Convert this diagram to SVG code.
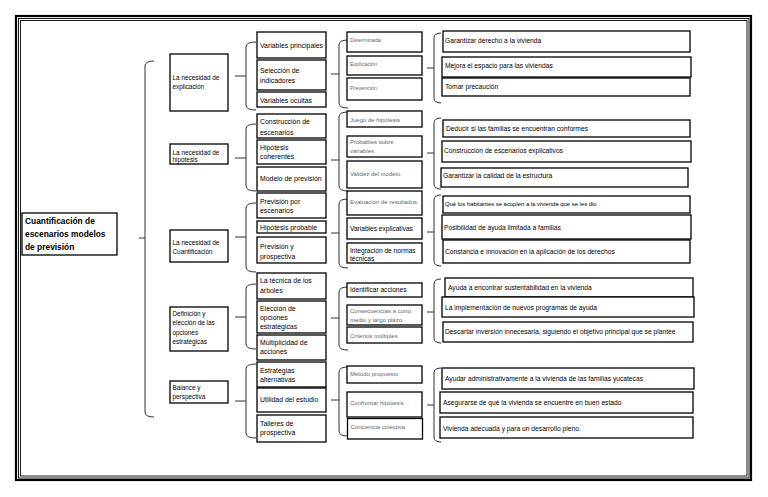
<svg xmlns="http://www.w3.org/2000/svg" width="768" height="497" viewBox="0 0 768 497">
<style>
.frame{fill:none;stroke:#000}
.b{fill:#fff;stroke:#000;stroke-width:1.3}
.br{fill:none;stroke:#333;stroke-width:1}
text{font-family:"Liberation Sans",Arial,sans-serif;fill:#000}
.title{font-size:8.4px;font-weight:bold}
.t1{font-size:6.4px}
.t2{font-size:6.9px}
.t3{font-size:6px;fill:#666}
.t3s{font-size:5.4px;fill:#666}
.t3b{font-size:6.6px}
.t4{font-size:6.7px}
.t4s{font-size:5.9px}
</style>
<rect width="768" height="497" fill="#fff"/>
<rect class="frame" x="16" y="16" width="735" height="464" stroke-width="2.2"/>
<rect class="frame" x="18.5" y="18.5" width="730.5" height="459.5" stroke-width="0.9"/>
<rect class="frame" x="20.5" y="20.5" width="726.5" height="455.5" stroke-width="0.9"/>

<g id="connectors">
<path class="br" d="M154,61 Q145,61 145,66 L145,412 Q145,417 154,417 M139,238 L145,238"/>
<path class="br" d="M256,42 Q246,42 246,47 L246,105 Q246,110 256,110 M235,76 L246,76"/>
<path class="br" d="M256,124 Q246,124 246,129 L246,186 Q246,191 256,191 M235,158 L246,158"/>
<path class="br" d="M256,203 Q246,203 246,208 L246,267 Q246,272 256,272 M235,237 L246,237"/>
<path class="br" d="M256,284 Q246,284 246,289 L246,344 Q246,349 256,349 M235,317 L246,317"/>
<path class="br" d="M256,364 Q246,364 246,369 L246,433 Q246,438 256,438 M235,401 L246,401"/>
<path class="br" d="M348,40 Q339,40 339,45 L339,103 Q339,108 348,108 M331,74 L339,74"/>
<path class="br" d="M348,112 Q339,112 339,117 L339,186 Q339,191 348,191 M331,160 L339,160"/>
<path class="br" d="M348,199 Q339,199 339,204 L339,263 Q339,268 348,268 M331,233 L339,233"/>
<path class="br" d="M348,287 Q339,287 339,292 L339,345 Q339,350 348,350 M331,318 L339,318"/>
<path class="br" d="M348,367 Q339,367 339,372 L339,431 Q339,436 348,436 M331,400 L339,400"/>
<path class="br" d="M441,33 Q434,33 434,38 L434,98 Q434,103 441,103 M427,68 L434,68"/>
<path class="br" d="M441,118 Q434,118 434,123 L434,184 Q434,189 441,189 M427,153 L434,153"/>
<path class="br" d="M441,195 Q434,195 434,200 L434,261 Q434,266 441,266 M427,232 L434,232"/>
<path class="br" d="M441,279 Q434,279 434,284 L434,338 Q434,343 441,343 M427,312 L434,312"/>
<path class="br" d="M441,368 Q434,368 434,373 L434,437 Q434,442 441,442 M427,405 L434,405"/>
</g>

<g id="root"><rect class="b" x="22" y="213" width="95" height="42"/>
<text class="title" x="25" y="224">Cuantificación de</text>
<text class="title" x="25" y="237">escenarios modelos</text>
<text class="title" x="25" y="249.5">de previsión</text></g>

<g id="n1a"><rect class="b" x="170" y="54" width="58" height="57"/>
<text class="t1" x="172.5" y="80.3">La necesidad de</text><text class="t1" x="172.5" y="89.3">explicación</text></g>
<g id="n1b"><rect class="b" x="170" y="144" width="58" height="20"/>
<text class="t1" x="172.5" y="154.5">La necesidad de</text><text class="t1" x="172.5" y="161.8">hipótesis</text></g>
<g id="n1c"><rect class="b" x="170" y="230" width="58" height="32"/>
<text class="t1" x="172.5" y="245">La necesidad de</text><text class="t1" x="172.5" y="253.5">Cuantificación</text></g>
<g id="n1d"><rect class="b" x="170" y="307" width="58" height="44"/>
<text class="t1" x="172.5" y="315.5">Definición y</text><text class="t1" x="172.5" y="325">elección de las</text><text class="t1" x="172.5" y="334.5">opciones</text><text class="t1" x="172.5" y="344">estratégicas</text></g>
<g id="n1e"><rect class="b" x="170" y="381" width="58" height="22"/>
<text class="t1" x="172.5" y="389.5">Balance y</text><text class="t1" x="172.5" y="398.5">perspectiva</text></g>

<g id="n2a"><rect class="b" x="257" y="32" width="69" height="26"/><text class="t2" x="260" y="47.5">Variables principales</text></g>
<g id="n2b"><rect class="b" x="257" y="60" width="69" height="30"/><text class="t2" x="260" y="73">Selección de</text><text class="t2" x="260" y="82.5">indicadores</text></g>
<g id="n2c"><rect class="b" x="257" y="92" width="69" height="15"/><text class="t2" x="260" y="102.5">Variables ocultas</text></g>
<g id="n2d"><rect class="b" x="257" y="114" width="69" height="24"/><text class="t2" x="260" y="124">Construcción de</text><text class="t2" x="260" y="135">escenarios</text></g>
<g id="n2e"><rect class="b" x="257" y="140" width="69" height="24"/><text class="t2" x="260" y="150">Hipótesis</text><text class="t2" x="260" y="159">coherentes</text></g>
<g id="n2f"><rect class="b" x="257" y="167" width="69" height="24"/><text class="t2" x="260" y="180.5">Modelo de previsión</text></g>
<g id="n2g"><rect class="b" x="257" y="193" width="69" height="25"/><text class="t2" x="260" y="204">Previsión por</text><text class="t2" x="260" y="213">escenarios</text></g>
<g id="n2h"><rect class="b" x="257" y="221" width="69" height="12"/><text class="t2" x="260" y="229.5">Hipótesis probable</text></g>
<g id="n2i"><rect class="b" x="257" y="237" width="69" height="26"/><text class="t2" x="260" y="249">Previsión y</text><text class="t2" x="260" y="259">prospectiva</text></g>
<g id="n2j"><rect class="b" x="257" y="273" width="69" height="26"/><text class="t2" x="260" y="283">La técnica de los</text><text class="t2" x="260" y="292.5">árboles</text></g>
<g id="n2k"><rect class="b" x="257" y="301" width="69" height="32"/><text class="t2" x="260" y="310.5">Elección de</text><text class="t2" x="260" y="319.5">opciones</text><text class="t2" x="260" y="329">estratégicas</text></g>
<g id="n2l"><rect class="b" x="257" y="335" width="69" height="25"/><text class="t2" x="260" y="344.5">Multiplicidad de</text><text class="t2" x="260" y="354">acciones</text></g>
<g id="n2m"><rect class="b" x="257" y="362" width="69" height="25"/><text class="t2" x="260" y="372.5">Estrategias</text><text class="t2" x="260" y="381.5">alternativas</text></g>
<g id="n2n"><rect class="b" x="257" y="388" width="69" height="24"/><text class="t2" x="260" y="401.5">Utilidad del estudio</text></g>
<g id="n2o"><rect class="b" x="257" y="415" width="69" height="27"/><text class="t2" x="260" y="425.5">Talleres de</text><text class="t2" x="260" y="434.5">prospectiva</text></g>

<g id="n3a"><rect class="b" x="347" y="32" width="75" height="20"/><text class="t3s" x="350" y="42">Determinada</text></g>
<g id="n3b"><rect class="b" x="347" y="56" width="75" height="19"/><text class="t3s" x="350" y="66.2">Explicación</text></g>
<g id="n3c"><rect class="b" x="347" y="78" width="75" height="22"/><text class="t3s" x="350" y="90.2">Prevención</text></g>
<g id="n3d"><rect class="b" x="347" y="111" width="75" height="16"/><text class="t3" x="350" y="121.8">Juego de hipótesis</text></g>
<g id="n3e"><rect class="b" x="347" y="136" width="75" height="21"/><text class="t3" x="350" y="143.8">Probables sobre</text><text class="t3" x="350" y="152.8">variables</text></g>
<g id="n3f"><rect class="b" x="347" y="161" width="75" height="27"/><text class="t3" x="350" y="176">Validez del modelo</text></g>
<g id="n3g"><rect class="b" x="347" y="191" width="75" height="24"/><text class="t3" x="350" y="204">Evaluación de resultados</text></g>
<g id="n3h"><rect class="b" x="347" y="218" width="75" height="21"/><text class="t3b" x="350" y="230.6">Variables explicativas</text></g>
<g id="n3i"><rect class="b" x="347" y="243" width="75" height="20"/><text class="t3b" x="350" y="253">Integración de normas</text><text class="t3b" x="350" y="261.4">técnicas</text></g>
<g id="n3j"><rect class="b" x="347" y="283" width="75" height="14"/><text class="t3b" x="350" y="292.3">Identificar acciones</text></g>
<g id="n3k"><rect class="b" x="347" y="305" width="75" height="20"/><text class="t3" x="350" y="312.8">Consecuencias a corto,</text><text class="t3" x="350" y="322">medio y largo plazo</text></g>
<g id="n3l"><rect class="b" x="347" y="327" width="75" height="16"/><text class="t3" x="350" y="337.8">Criterios múltiples</text></g>
<g id="n3m"><rect class="b" x="347" y="366" width="75" height="17"/><text class="t3" x="350" y="376">Método propuesto</text></g>
<g id="n3n"><rect class="b" x="347" y="392" width="75" height="25"/><text class="t3" x="350" y="405.3">Confrontar hipótesis</text></g>
<g id="n3o"><rect class="b" x="347.5" y="418.5" width="75" height="20.5"/><text class="t3" x="350.5" y="429.3">Conciencia colectiva</text></g>

<g id="n4a"><rect class="b" x="443" y="31" width="247" height="21"/><text class="t4" x="445" y="43">Garantizar derecho a la vivienda</text></g>
<g id="n4b"><rect class="b" x="442" y="57" width="249" height="20"/><text class="t4" x="445" y="68">Mejora el espacio para las viviendas</text></g>
<g id="n4c"><rect class="b" x="442" y="78" width="248" height="18"/><text class="t4" x="445" y="89">Tomar precaución</text></g>
<g id="n4d"><rect class="b" x="443" y="120" width="247" height="17"/><text class="t4" x="446" y="130.6">Deducir si las familias se encuentran conformes</text></g>
<g id="n4e"><rect class="b" x="442" y="141" width="249" height="21"/><text class="t4" x="444" y="153">Construcción de escenarios explicativos</text></g>
<g id="n4f"><rect class="b" x="441" y="168" width="247" height="19"/><text class="t4" x="443" y="178.3">Garantizar la calidad de la estructura</text></g>
<g id="n4g"><rect class="b" x="443" y="196" width="247" height="17"/><text class="t4s" x="445" y="206">Qué los habitantes se acoplen a la vivienda que se les dio</text></g>
<g id="n4h"><rect class="b" x="442" y="215" width="249" height="24"/><text class="t4" x="444" y="229.6">Posibilidad de ayuda limitada a familias</text></g>
<g id="n4i"><rect class="b" x="443" y="240" width="247" height="23"/><text class="t4" x="445" y="254">Constancia e innovación en la aplicación de los derechos</text></g>
<g id="n4j"><rect class="b" x="445" y="278" width="248" height="19"/><text class="t4" x="448" y="289.6">Ayuda a encontrar sustentabilidad en la vivienda</text></g>
<g id="n4k"><rect class="b" x="442" y="297" width="252" height="20"/><text class="t4" x="445" y="309.6">La implementación de nuevos programas de ayuda</text></g>
<g id="n4l"><rect class="b" x="443" y="322" width="250" height="20"/><text class="t4" x="445" y="334">Descartar inversión innecesaria, siguiendo el objetivo principal que se plantee</text></g>
<g id="n4m"><rect class="b" x="442" y="368" width="252" height="21"/><text class="t4" x="445" y="380.6">Ayudar administrativamente a la vivienda de las familias yucatecas</text></g>
<g id="n4n"><rect class="b" x="440" y="392" width="253" height="21"/><text class="t4" x="443" y="404.6">Asegurarse de qué la vivienda se encuentre en buen estado</text></g>
<g id="n4o"><rect class="b" x="440" y="417" width="253" height="21"/><text class="t4" x="443" y="431.3">Vivienda adecuada y para un desarrollo pleno.</text></g>
</svg>
